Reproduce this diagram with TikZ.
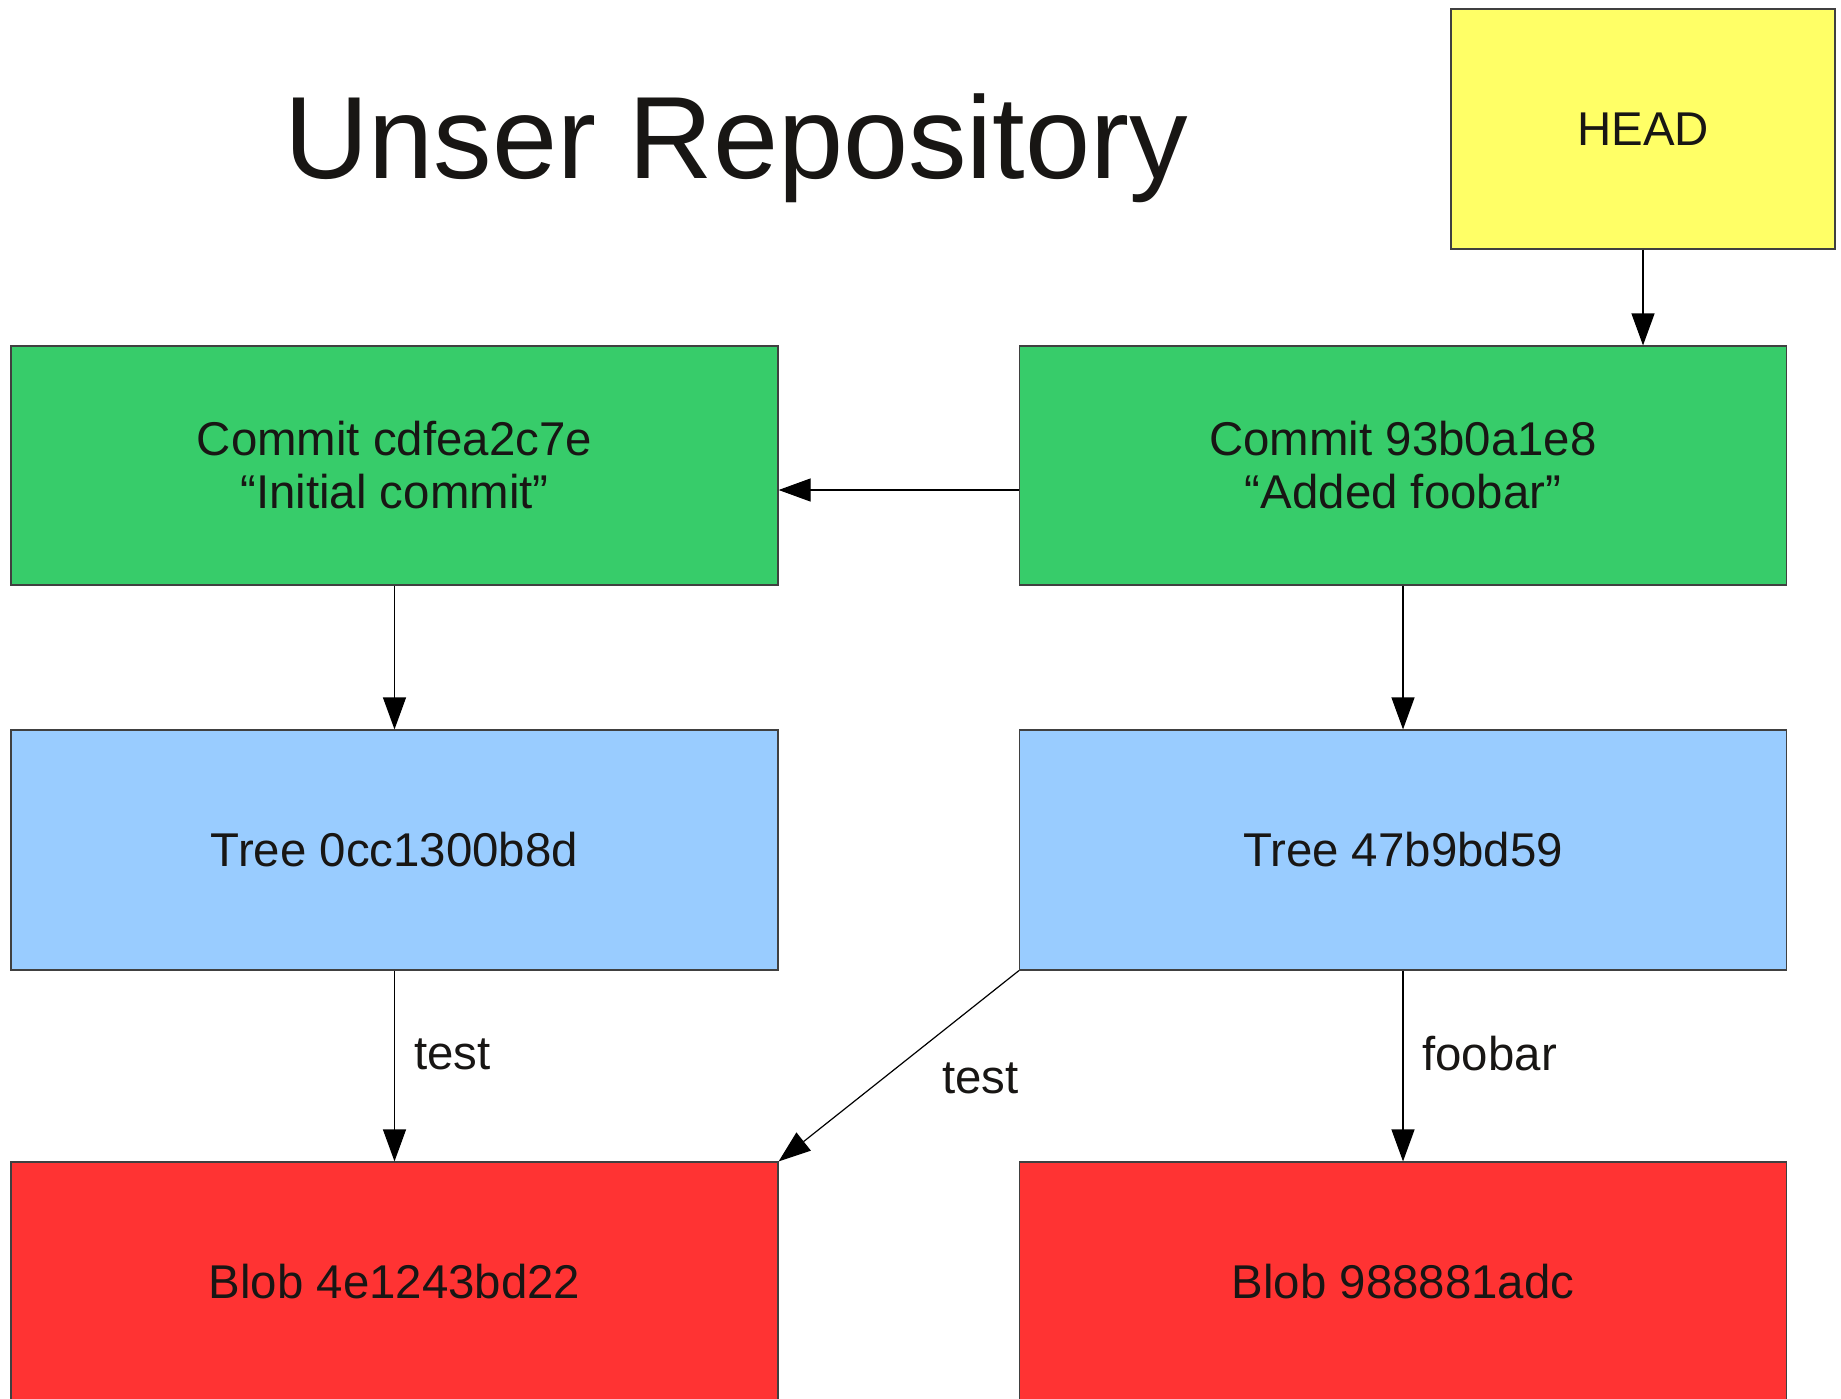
\documentclass[tikz,border=0pt]{standalone}
\usepackage{fontspec}
\setmainfont{Liberation Sans}
\usetikzlibrary{arrows.meta,positioning}
\definecolor{headyellow}{RGB}{255,255,102}
\definecolor{commitgreen}{RGB}{55,204,106}
\definecolor{treeblue}{RGB}{153,204,255}
\definecolor{blobred}{RGB}{255,51,51}
\definecolor{ink}{RGB}{24,22,20}
\tikzset{
  objbox/.style={draw=black!75,line width=0.6pt,minimum width=383.5pt,minimum height=119.5pt,
    inner sep=0pt,align=center,text=ink,font=\fontsize{23.7}{26.5}\selectfont},
  arr/.style={-{Triangle[length=16pt,width=11.5pt]},line width=0.6pt},
  lbl/.style={text=ink,font=\fontsize{23.7}{26.5}\selectfont,inner sep=0pt}
}
\begin{document}
\begin{tikzpicture}[x=0.5pt,y=-0.5pt]
        \useasboundingbox (0,0) rectangle (1841,1398);
        \clip (0,0) rectangle (1841,1398);

        \node[text=ink,font=\fontsize{58.5}{66}\selectfont,anchor=base] (title) at (736,178) {Unser Repository};

        \node[objbox,fill=headyellow,minimum width=192pt,minimum height=120pt] (head) at (1643,129) {HEAD};

        \node[objbox,fill=commitgreen] (cL) at (394.5,465.5) {Commit cdfea2c7e\\“Initial commit”};
        \node[objbox,fill=commitgreen] (cR) at (1403,465.5) {Commit 93b0a1e8\\“Added foobar”};

        \node[objbox,fill=treeblue,minimum height=120pt] (tL) at (394.5,850) {Tree 0cc1300b8d};
        \node[objbox,fill=treeblue,minimum height=120pt] (tR) at (1403,850) {Tree 47b9bd59};

        \node[objbox,fill=blobred,minimum height=120pt] (bL) at (394.5,1282) {Blob 4e1243bd22};
        \node[objbox,fill=blobred,minimum height=120pt] (bR) at (1403,1282) {Blob 988881adc};

        \draw[arr] (head.south) -- (head.south |- cR.north);
        \draw[arr] ([yshift=-12.25pt]cR.west) -- ([yshift=-12.25pt]cL.east);
        \draw[arr] (cL) -- (tL);
        \draw[arr] (cR) -- (tR);
        \draw[arr] (tL) -- (bL);
        \draw[arr] (tR.south west) -- (bL.north east);
        \draw[arr] (tR) -- (bR);

        \node[lbl,anchor=west] (lt1) at (414,1054) {test};
        \node[lbl,anchor=east] (lt2) at (1019,1078) {test};
        \node[lbl,anchor=west] (lfb) at (1422,1054) {foobar};

    \end{tikzpicture}
\end{document}
